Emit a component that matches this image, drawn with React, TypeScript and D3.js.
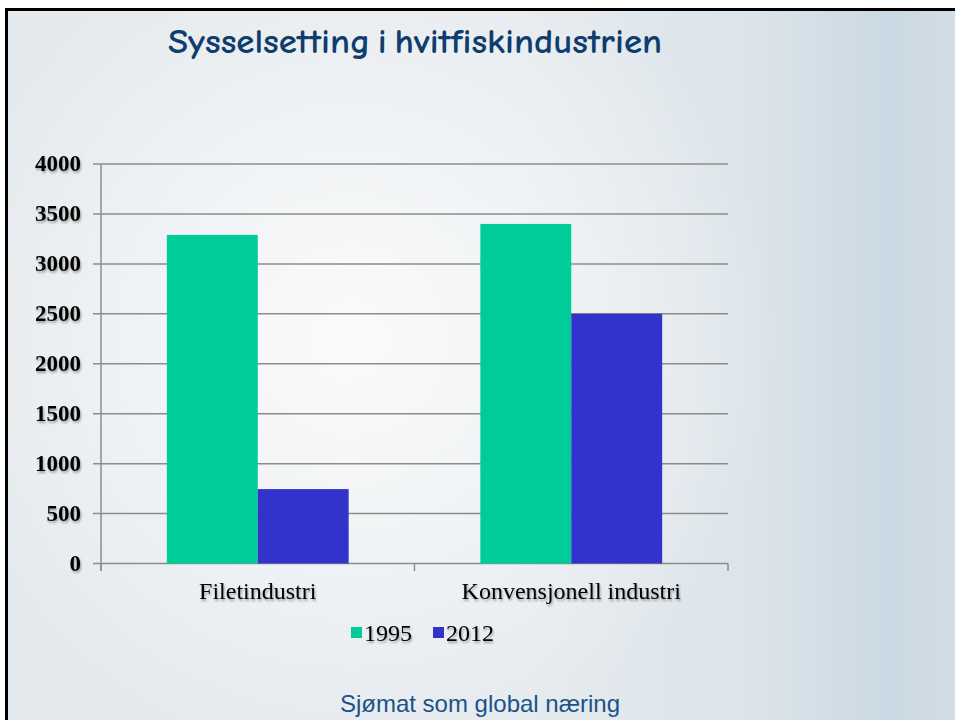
import React from "react";
import * as d3 from "d3";

const categories = ["Filetindustri", "Konvensjonell industri"];
const seriesNames = ["1995", "2012"];
const values1995 = [3290, 3400];
const values2012 = [745, 2500];
const yTicks = [0, 500, 1000, 1500, 2000, 2500, 3000, 3500, 4000];
const colors = ["#00cc99", "#3333cc"];

const W = 955;
const H = 720;
const SERIF = "'Liberation Serif', 'Times New Roman', serif";

export default function App() {
  const x0 = d3.scaleBand<string>().domain(categories).range([101, 728]).padding(0);
  const bw = x0.bandwidth();
  const x1 = d3
    .scaleBand<string>()
    .domain(seriesNames)
    .range([bw * 0.21, bw * 0.79])
    .padding(0);
  const y = d3.scaleLinear().domain([0, 4000]).range([563.5, 164]);
  const seriesVals = [values1995, values2012];

  return (
    <svg
      width={W}
      height={H}
      style={{ position: "absolute", left: 0, top: 0 }}
      xmlns="http://www.w3.org/2000/svg"
    >
      <defs>
        <linearGradient id="bgLin" x1="0" y1="0" x2="1" y2="0">
          <stop offset="0" stopColor="#e4e9ed" />
          <stop offset="0.55" stopColor="#e5eaee" />
          <stop offset="0.78" stopColor="#dde5ea" />
          <stop offset="0.93" stopColor="#cad9e3" />
          <stop offset="1" stopColor="#d2dde5" />
        </linearGradient>
        <radialGradient id="glow" cx="350" cy="340" r="430" gradientUnits="userSpaceOnUse">
          <stop offset="0" stopColor="#ffffff" stopOpacity="0.8" />
          <stop offset="0.55" stopColor="#ffffff" stopOpacity="0.4" />
          <stop offset="1" stopColor="#ffffff" stopOpacity="0" />
        </radialGradient>
        <filter id="shadow" x="-5%" y="-20%" width="110%" height="140%">
          <feGaussianBlur in="SourceAlpha" stdDeviation="0.8" />
          <feOffset dx="1" dy="1.5" result="off" />
          <feComponentTransfer>
            <feFuncA type="linear" slope="0.35" />
          </feComponentTransfer>
          <feMerge>
            <feMergeNode />
            <feMergeNode in="SourceGraphic" />
          </feMerge>
        </filter>
      </defs>
      <rect x={0} y={0} width={W} height={H} fill="#ffffff" />
      <rect x={5} y={8} width={W - 5} height={H - 8} fill="url(#bgLin)" />
      <rect x={5} y={8} width={W - 5} height={H - 8} fill="url(#glow)" />
      <rect x={5} y={8} width={W - 5} height={3} fill="#000000" />
      <rect x={5} y={8} width={3} height={H - 8} fill="#000000" />

      <text
        x={415}
        y={53}
        textAnchor="middle"
        fontFamily="'Comic Sans MS', 'Comic Neue', 'DejaVu Sans', sans-serif"
        fontSize={34}
        fontWeight="bold"
        fill="#0e3d6e"
        wordSpacing={-5}
        textLength={494}
        lengthAdjust="spacingAndGlyphs"
      >
        Sysselsetting i hvitfiskindustrien
      </text>

      {/* gridlines */}
      {yTicks.map((t) => (
        <g key={t}>
          <line x1={93} x2={728} y1={y(t)} y2={y(t)} stroke="#8c8c8c" strokeWidth={1.5} />
          <text
            x={81}
            y={y(t) + 7}
            textAnchor="end"
            fontFamily={SERIF}
            fontWeight="bold"
            fontSize={23}
            fill="#000"
            filter="url(#shadow)"
          >
            {t}
          </text>
        </g>
      ))}
      <line x1={101} x2={101} y1={164} y2={571} stroke="#8c8c8c" strokeWidth={1.5} />
      {[0, 1, 2].map((i) => {
        const xx = 101 + i * bw;
        return <line key={i} x1={xx} x2={xx} y1={563.5} y2={571} stroke="#8c8c8c" strokeWidth={1.5} />;
      })}

      {/* bars */}
      {categories.map((c, ci) => (
        <g key={c} transform={`translate(${x0(c)},0)`}>
          {seriesNames.map((s, si) => {
            const v = seriesVals[si][ci];
            return (
              <rect
                key={s}
                x={x1(s)}
                y={y(v)}
                width={x1.bandwidth()}
                height={y(0) - y(v)}
                fill={colors[si]}
              />
            );
          })}
          <text
            x={bw / 2}
            y={599}
            textAnchor="middle"
            fontFamily={SERIF}
            fontSize={24}
            fill="#000"
            filter="url(#shadow)"
          >
            {c}
          </text>
        </g>
      ))}

      {/* legend */}
      {seriesNames.map((s, i) => {
        const lx = 351 + i * 82;
        return (
          <g key={s}>
            <rect x={lx} y={627} width={11} height={11} fill={colors[i]} />
            <text
              x={lx + 13}
              y={641}
              fontFamily={SERIF}
              fontSize={24}
              fill="#000"
              filter="url(#shadow)"
            >
              {s}
            </text>
          </g>
        );
      })}

      <text
        x={480}
        y={712}
        textAnchor="middle"
        fontFamily="'Liberation Sans', Arial, sans-serif"
        fontSize={24}
        fill="#1a5387"
      >
        Sjømat som global næring
      </text>
    </svg>
  );
}
